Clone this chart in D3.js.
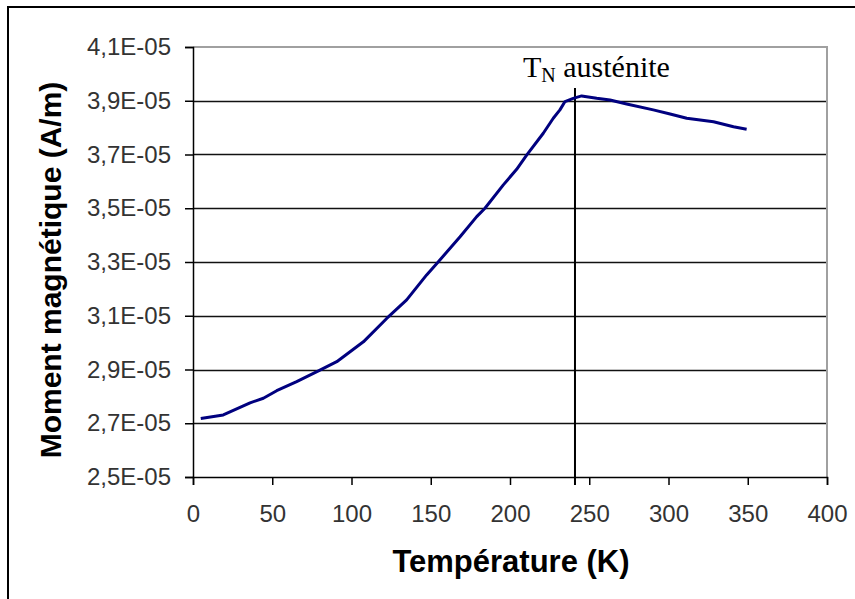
<!DOCTYPE html>
<html>
<head>
<meta charset="utf-8">
<script src="https://cdn.jsdelivr.net/npm/d3@7"></script>
<style>
  html, body { margin: 0; padding: 0; background: #fff; }
  svg { display: block; }
</style>
</head>
<body>
<svg id="chart" width="855" height="599"></svg>
<script>
// Data (moment in units of 1E-05 A/m)
const temperature = [4.9, 19.1, 36, 44.4, 52.8, 65.4, 80.1, 90.7, 107.5, 122.2, 134.8, 147.4, 154.8, 168.5, 179, 184.2, 195.8, 204.2, 210.5, 221, 227.3, 231.5, 234.7, 239.9, 245.2, 254.7, 263.1, 273.6, 290.4, 301, 311.5, 328.4, 341, 349.3];
const moment = [2.718, 2.731, 2.776, 2.793, 2.821, 2.855, 2.898, 2.929, 3.003, 3.09, 3.159, 3.252, 3.301, 3.394, 3.469, 3.5, 3.587, 3.645, 3.698, 3.779, 3.835, 3.866, 3.897, 3.909, 3.918, 3.909, 3.903, 3.888, 3.866, 3.851, 3.835, 3.822, 3.803, 3.794];
const yTicks = [2.5, 2.7, 2.9, 3.1, 3.3, 3.5, 3.7, 3.9, 4.1];
const yTickLabels = ["2,5E-05", "2,7E-05", "2,9E-05", "3,1E-05", "3,3E-05", "3,5E-05", "3,7E-05", "3,9E-05", "4,1E-05"];
const xTicks = [0, 50, 100, 150, 200, 250, 300, 350, 400];
const markerT = 241;
const xTitle = "Température (K)";
const yTitle = "Moment magnétique (A/m)";

const svg = d3.select("#chart");
const pL = 193, pR = 827, pT = 47, pB = 477;

const x = d3.scaleLinear().domain([0, 400]).range([pL, pR]);
const y = d3.scaleLinear().domain([2.5, 4.1]).range([pB, pT]);

// Outer frame (left and top edges visible)
svg.append("line").attr("x1", 8).attr("x2", 8).attr("y1", 6).attr("y2", 599)
  .attr("stroke", "#000").attr("stroke-width", 2);
svg.append("line").attr("x1", 7).attr("x2", 855).attr("y1", 7).attr("y2", 7)
  .attr("stroke", "#000").attr("stroke-width", 2);

// Gridlines
svg.append("g").selectAll("line").data(yTicks.slice(1, -1)).join("line")
  .attr("x1", pL).attr("x2", pR)
  .attr("y1", d => Math.round(y(d)) + 0.5).attr("y2", d => Math.round(y(d)) + 0.5)
  .attr("stroke", "#111").attr("stroke-width", 1.4);

// Plot area border (top & right, gray)
svg.append("path")
  .attr("d", `M${pL},${pT} H${pR} V${pB}`)
  .attr("fill", "none").attr("stroke", "#a0a0a0").attr("stroke-width", 2);

// Axes
const fmt = d => yTickLabels[yTicks.indexOf(d)];
const yAxis = svg.append("g").attr("transform", `translate(${pL},0)`)
  .call(d3.axisLeft(y).tickValues(yTicks).tickFormat(fmt).tickSize(8).tickPadding(14));
const xAxis = svg.append("g").attr("transform", `translate(0,${pB})`)
  .call(d3.axisBottom(x).tickValues(xTicks).tickSize(8).tickPadding(20));

[yAxis, xAxis].forEach(a => {
  a.select(".domain").attr("stroke", "#000").attr("stroke-width", 1.5);
  a.selectAll(".tick line").attr("stroke", "#000").attr("stroke-width", 1.5);
  a.selectAll("text").attr("font-family", "Arial, 'Liberation Sans', sans-serif")
    .attr("font-size", 24).attr("fill", "#333");
});

// Marker line for T_N
svg.append("line")
  .attr("x1", x(markerT)).attr("x2", x(markerT))
  .attr("y1", 88).attr("y2", pB + 8)
  .attr("stroke", "#000").attr("stroke-width", 2);

// Curve
const line = d3.line().x((d, i) => x(temperature[i])).y(d => y(d));
svg.append("path").datum(moment)
  .attr("d", line)
  .attr("fill", "none").attr("stroke", "#00007f").attr("stroke-width", 3)
  .attr("stroke-linejoin", "round");

// Annotation
const ann = svg.append("text")
  .attr("x", 523).attr("y", 77)
  .attr("font-family", "'Times New Roman', 'Liberation Serif', serif")
  .attr("font-size", 30).attr("fill", "#000");
ann.append("tspan").text("T");
ann.append("tspan").attr("font-size", 20).attr("dy", 5).text("N");
ann.append("tspan").attr("dy", -5).text(" austénite");

// Axis titles
svg.append("text")
  .attr("x", (pL + pR) / 2 + 1).attr("y", 572)
  .attr("text-anchor", "middle")
  .attr("font-family", "Arial, 'Liberation Sans', sans-serif")
  .attr("font-weight", "bold").attr("font-size", 31)
  .text(xTitle);

svg.append("text")
  .attr("transform", `translate(61,${(pT + pB) / 2 + 8}) rotate(-90)`)
  .attr("text-anchor", "middle")
  .attr("font-family", "Arial, 'Liberation Sans', sans-serif")
  .attr("font-weight", "bold").attr("font-size", 30)
  .text(yTitle);
</script>
</body>
</html>
